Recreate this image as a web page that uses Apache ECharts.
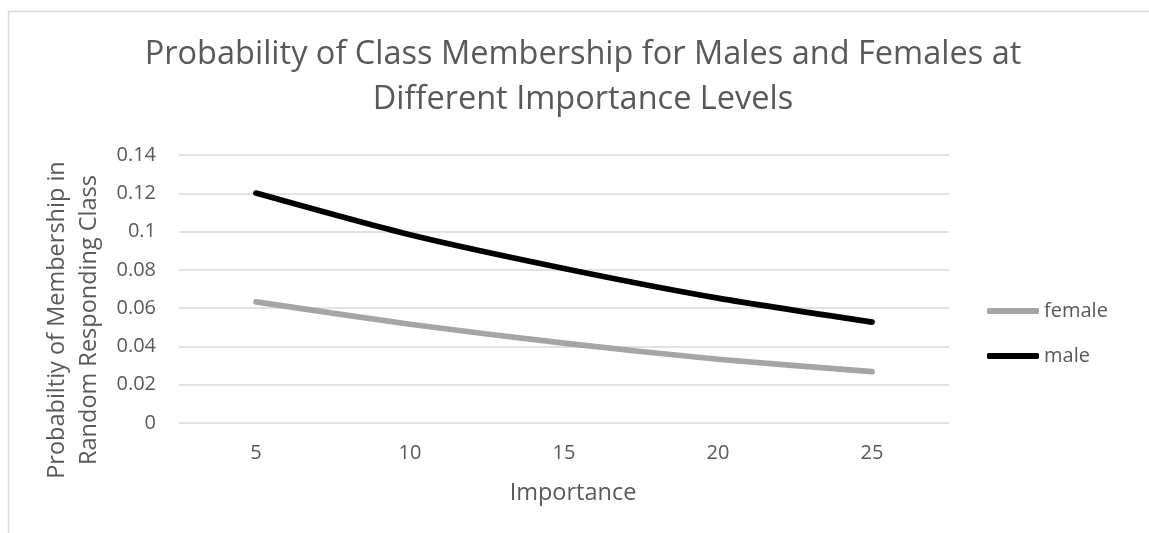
<!DOCTYPE html>
<html>
<head>
<meta charset="utf-8">
<script src="https://cdn.jsdelivr.net/npm/echarts@6/dist/echarts.min.js"></script>
<style>html,body{margin:0;padding:0;background:#fff}#c{width:1149px;height:533px}</style>
</head>
<body>
<div id="c"></div>
<script>
const importance = ['5', '10', '15', '20', '25'];
const female = [0.0633, 0.0516, 0.0417, 0.0333, 0.0268];
const male = [0.1201, 0.0983, 0.0807, 0.0652, 0.0527];
const titleText = 'Probability of Class Membership for Males and Females at\nDifferent Importance Levels';
const yName = 'Probabiltiy of Membership in\nRandom Responding Class';
const xName = 'Importance';

const FONT = 'Open Sans';
const TXT = '#595959';
const chart = echarts.init(document.getElementById('c'));
chart.setOption({
  animation: false,
  textStyle: { fontFamily: FONT, color: TXT },
  graphic: [{
    type: 'rect', silent: true,
    shape: { x: 8.5, y: 11.5, width: 1300, height: 700 },
    style: { fill: 'none', stroke: '#d9d9d9', lineWidth: 1.5 }
  }, {
    type: 'text', silent: true,
    x: 73, y: 320, rotation: Math.PI / 2,
    style: {
      text: yName, fontFamily: FONT, fontSize: 23.5, fill: TXT,
      lineHeight: 32, align: 'center', verticalAlign: 'middle'
    }
  }],
  title: {
    text: titleText,
    left: 583, top: 32, padding: 0, textAlign: 'center',
    textStyle: { fontFamily: FONT, fontSize: 32.5, fontWeight: 'normal', color: TXT, lineHeight: 45 }
  },
  legend: {
    orient: 'vertical', left: 987, top: 301, padding: 0,
    itemWidth: 52, itemHeight: 6, itemGap: 25,
    icon: 'roundRect',
    textStyle: { fontFamily: FONT, fontSize: 20, color: TXT, lineHeight: 20, padding: [0, 0, 0, 0] },
    data: ['female', 'male']
  },
  grid: { left: 179, right: 200, top: 155, bottom: 110 },
  xAxis: {
    type: 'category', data: importance,
    name: xName, nameLocation: 'middle', nameGap: 58,
    nameTextStyle: { fontFamily: FONT, fontSize: 23.5, color: TXT, padding: [0, 0, 0, 18] },
    axisLine: { show: false }, axisTick: { show: false },
    axisLabel: { fontFamily: FONT, fontSize: 20, color: TXT, margin: 20 }
  },
  yAxis: {
    type: 'value', min: 0, max: 0.14, interval: 0.02,
    axisLine: { show: false }, axisTick: { show: false },
    axisLabel: { fontFamily: FONT, fontSize: 20, color: TXT, margin: 23 },
    splitLine: { lineStyle: { color: '#d9d9d9', width: 1.5 } }
  },
  series: [
    { name: 'female', type: 'line', data: female, smooth: 0.25, symbol: 'none',
      lineStyle: { color: '#a5a5a5', width: 5.75, cap: 'round', join: 'round' },
      itemStyle: { color: '#a5a5a5' } },
    { name: 'male', type: 'line', data: male, smooth: 0.25, symbol: 'none',
      lineStyle: { color: '#000000', width: 5.75, cap: 'round', join: 'round' },
      itemStyle: { color: '#000000' } }
  ]
});
</script>
</body>
</html>
